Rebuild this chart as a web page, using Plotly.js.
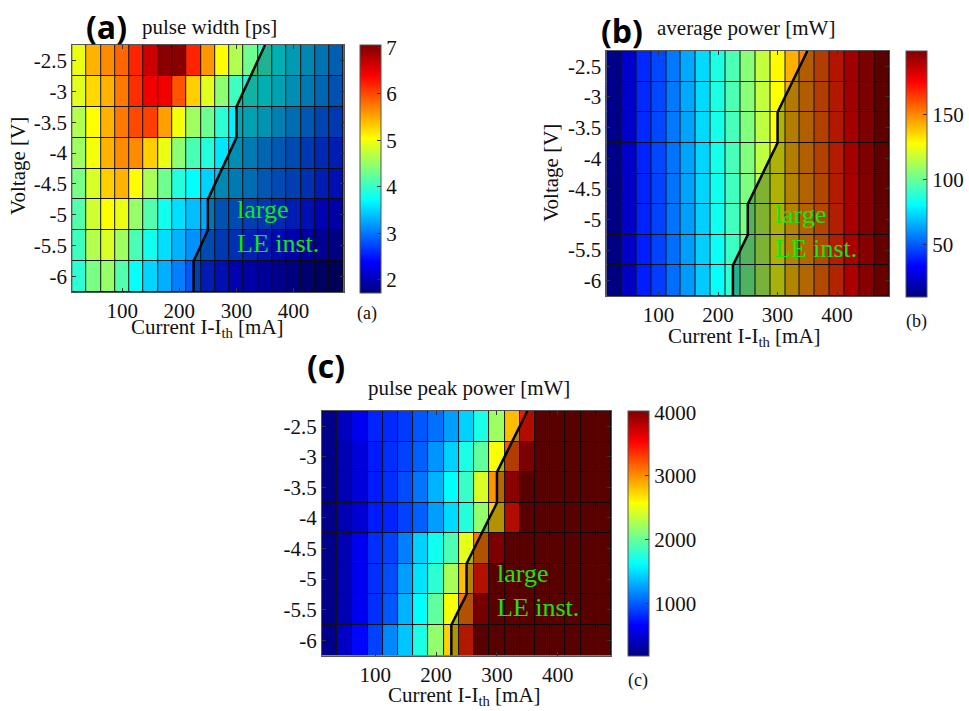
<!DOCTYPE html>
<html><head><meta charset="utf-8">
<script src="https://cdn.plot.ly/plotly-3.0.1.min.js"></script>
<style>html,body{margin:0;padding:0;background:#fff}#chart{width:969px;height:711px}</style>
</head><body><div id="chart"></div>
<script>
// ---- data ----
const currents = [25,50,75,100,125,150,175,200,225,250,275,300,325,350,375,400,425,450,475];
const voltages = [-2.5,-3,-3.5,-4,-4.5,-5,-5.5,-6];
const voltageTickText = ['-2.5','-3','-3.5','-4','-4.5','-5','-5.5','-6'];
const currentTicks = [100,200,300,400];

// pulse width [ps], rows = voltages
const pulseWidth = [
  [4.95,5.45,5.65,5.85,6.2,6.65,7.0,7.0,6.2,5.6,5.05,4.65,4.3,3.95,3.7,3.55,3.4,3.25,3.1],
  [4.9,5.25,5.45,5.75,6.15,6.45,6.45,5.95,5.3,4.9,4.45,4.05,3.85,3.7,3.6,3.45,3.3,3.15,3.0],
  [4.65,5.05,5.45,5.75,6.0,6.05,5.55,5.0,4.55,4.3,3.95,3.65,3.6,3.5,3.35,3.2,3.05,2.9,2.8],
  [4.55,5.0,5.45,5.65,5.65,5.3,4.95,4.45,4.1,3.9,3.6,3.45,3.3,3.15,3.05,2.95,2.8,2.7,2.6],
  [4.35,4.85,5.3,5.45,5.05,4.6,4.3,3.9,3.72,3.48,3.4,3.3,3.2,3.05,2.95,2.85,2.75,2.6,2.5],
  [4.15,4.8,5.05,4.95,4.5,4.15,3.8,3.55,3.38,3.27,3.0,2.95,2.85,2.8,2.7,2.6,2.5,2.4,2.3],
  [4.05,4.65,4.85,4.55,4.1,3.8,3.55,3.32,3.15,2.95,2.8,2.75,2.65,2.55,2.45,2.35,2.25,2.15,2.05],
  [3.95,4.35,4.5,4.15,3.75,3.5,3.3,3.05,2.85,2.6,2.5,2.4,2.3,2.2,2.1,2.0,1.9,1.8,1.72]
];
// average power [mW]
const avgPower = [
  [12,24,41,47,56,65,74,86,95,106,117,129,143,151,159,170,180,190,199],
  [12,24,41,47,56,65,74,86,95,106,117,128,143,151,159,169,180,190,198],
  [12,24,41,47,56,64,74,85,94,105,116,128,142,150,158,169,179,189,198],
  [12,24,40,47,55,64,73,85,94,105,116,127,142,150,158,168,179,189,197],
  [11,23,40,46,55,64,73,84,93,104,115,127,141,149,157,168,178,188,197],
  [11,23,40,46,55,63,72,84,93,104,115,126,141,149,157,167,178,188,196],
  [11,23,39,46,54,63,72,83,92,103,114,126,140,148,156,167,177,187,196],
  [10,22,39,45,54,62,71,82,90,102,113,125,140,148,156,166,177,187,195]
];
// pulse peak power [mW] (saturated cells shown at colour-scale top)
const peakPower = [
  [210,400,595,785,805,865,980,1075,1250,1440,1710,2210,2825,3480,4020,4020,4020,4020,4020],
  [210,365,515,750,825,900,1015,1210,1440,1710,1980,2555,3210,3830,4020,4020,4020,4020,4020],
  [210,365,515,750,825,940,1095,1325,1615,1825,2440,2980,3750,4020,4020,4020,4020,4020,4020],
  [210,365,480,750,785,900,1015,1250,1480,1750,2170,2750,3480,4020,4020,4020,4020,4020,4020],
  [210,365,595,825,900,1130,1440,1670,1900,2480,3095,3830,4020,4020,4020,4020,4020,4020,4020],
  [210,365,595,825,940,1250,1515,1785,2250,2825,3445,4020,4020,4020,4020,4020,4020,4020,4020],
  [210,365,595,825,980,1325,1615,1980,2555,3095,3865,4020,4020,4020,4020,4020,4020,4020,4020],
  [210,440,670,900,1170,1400,1710,2170,2750,3405,4020,4020,4020,4020,4020,4020,4020,4020,4020]
];
// instability boundary
const boundaryCurrent = [225,225,250,250,300,300,350];
const boundaryVoltage = [-6.25,-5.75,-5.25,-4.75,-3.75,-3.25,-2.25];

// ---- drawing ----
const W=969,H=711;
const fx=p=>p/W, fy=p=>1-p/H;
const jet=[[0,'rgb(0,0,128)'],[0.125,'rgb(0,0,255)'],[0.375,'rgb(0,255,255)'],[0.625,'rgb(255,255,0)'],[0.875,'rgb(255,0,0)'],[1,'rgb(128,0,0)']];
const serif='"Liberation Serif", "Times New Roman", serif';
const sans='"Open Sans", "Noto Sans", sans-serif';
const step=currents[1]-currents[0];
const xr=[currents[0]-step/2, currents[currents.length-1]+step/2];
const vstep=voltages[0]-voltages[1];
const yr=[voltages[voltages.length-1]-vstep/2, voltages[0]+vstep/2];
const tf={family:serif,size:21,color:'#111'};

const panels=[
  {z:pulseWidth, zmin:1.72, zmax:7.05, dtick:1, box:[72.3,344.3,45,292], cb:[360.7,45,293], ax:''},
  {z:avgPower, zmin:10, zmax:199, dtick:50, box:[607.7,891,51,296], cb:[908.3,50.7,296.7], ax:'2'},
  {z:peakPower, zmin:170, zmax:4020, dtick:1000, box:[322.7,612.3,411,655.5], cb:[629.3,411,656], ax:'3'}
];
const traces=[]; const layout={width:W,height:H,margin:{l:0,r:0,t:0,b:0},paper_bgcolor:'#fff',plot_bgcolor:'#111',showlegend:false,font:{family:serif,size:20,color:'#111'},annotations:[]};
panels.forEach(p=>{
  const xa='x'+p.ax, ya='y'+p.ax;
  traces.push({type:'heatmap',x:currents,y:voltages,z:p.z,xaxis:xa,yaxis:ya,colorscale:jet,zmin:p.zmin,zmax:p.zmax,xgap:1,ygap:1,hoverinfo:'skip',
    colorbar:{x:fx(p.cb[0]),xanchor:'left',xref:'paper',y:fy((p.cb[1]+p.cb[2])/2),yanchor:'middle',yref:'paper',lenmode:'pixels',len:p.cb[2]-p.cb[1],thicknessmode:'pixels',thickness:21,xpad:0,ypad:0,
      outlinewidth:1,outlinecolor:'#555',ticks:'inside',ticklen:4,tickcolor:'#333',dtick:p.dtick,tick0:0,tickfont:tf,ticklabelposition:'outside'}});
  traces.push({type:'scatter',mode:'lines',xaxis:xa,yaxis:ya,x:boundaryCurrent.concat([xr[1],xr[1]]),y:boundaryVoltage.concat([yr[1],yr[0]]),fill:'toself',fillcolor:'rgba(0,0,0,0.3)',line:{width:0},hoverinfo:'skip'});
  traces.push({type:'scatter',mode:'lines',xaxis:xa,yaxis:ya,x:boundaryCurrent,y:boundaryVoltage,line:{color:'#000',width:2.5},hoverinfo:'skip'});
  layout['xaxis'+p.ax]={domain:[fx(p.box[0]),fx(p.box[1])],anchor:ya,range:xr,tickvals:currentTicks,ticktext:currentTicks.map(String),ticks:'inside',ticklen:4,tickcolor:'#333',
    showline:true,linecolor:'#555',linewidth:1,mirror:'ticks',showgrid:false,zeroline:false,tickfont:tf,fixedrange:true};
  layout['yaxis'+p.ax]={domain:[fy(p.box[3]),fy(p.box[2])],anchor:xa,range:yr,tickvals:voltages,ticktext:voltageTickText,ticks:'inside',ticklen:4,tickcolor:'#333',
    showline:true,linecolor:'#555',linewidth:1,mirror:'ticks',showgrid:false,zeroline:false,tickfont:tf,fixedrange:true};
});
function ann(text,x,y,o){layout.annotations.push(Object.assign({text:text,x:fx(x),y:fy(y),xref:'paper',yref:'paper',showarrow:false,xanchor:'center',yanchor:'middle',font:{family:serif,size:21,color:'#111'}},o||{}));}
// panel letters
ann('<b>(a)</b>',107,27,{font:{family:sans,size:32,color:'#000'}});
ann('<b>(b)</b>',623,30,{font:{family:sans,size:32,color:'#000'}});
ann('<b>(c)</b>',327,365,{font:{family:sans,size:32,color:'#000'}});
// titles
ann('pulse width [ps]',210,27);
ann('average power [mW]',748,28);
ann('pulse peak power [mW]',470,388);
// axis titles
ann('Current I-I<sub>th</sub> [mA]',208,328);
ann('Current I-I<sub>th</sub> [mA]',746,337);
ann('Current I-I<sub>th</sub> [mA]',465,696);
ann('Voltage [V]',18,166,{textangle:-90});
ann('Voltage [V]',552,173,{textangle:-90});
// small labels
ann('(a)',368,313,{font:{family:serif,size:18,color:'#111'}});
ann('(b)',918,321,{font:{family:serif,size:18,color:'#111'}});
ann('(c)',639,680,{font:{family:serif,size:18,color:'#111'}});
// region labels
const g={family:serif,size:26,color:'rgb(20,230,20)'};
ann('large<br>LE inst.',235,226.5,{xanchor:'left',align:'left',font:g});
ann('large<br>LE inst.',775,231.5,{xanchor:'left',align:'left',font:g});
ann('large<br>LE inst.',495.7,590,{xanchor:'left',align:'left',font:g});

Plotly.newPlot('chart',traces,layout,{staticPlot:true,displayModeBar:false});
</script></body></html>
